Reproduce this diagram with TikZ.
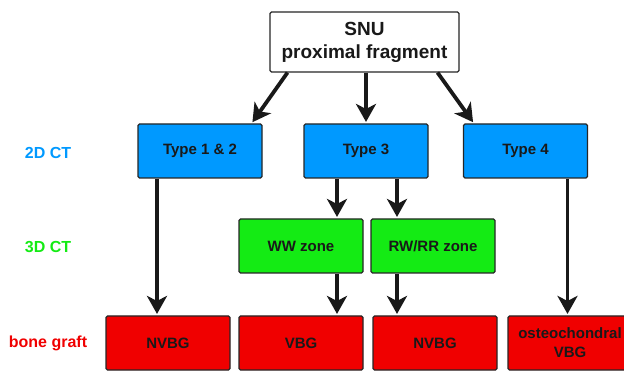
\documentclass[tikz,border=0pt]{standalone}
\usepackage{fontspec}
\setmainfont{Liberation Sans}
\definecolor{ctblue}{RGB}{0,153,255}
\definecolor{ctgreen}{RGB}{20,235,20}
\definecolor{graftred}{RGB}{240,0,0}
\usetikzlibrary{arrows.meta,positioning}

\begin{document}
\begin{tikzpicture}[x=1pt,y=-1pt]
\tikzstyle{box}=[rectangle, rounded corners=1.5pt, draw=black!85, line width=1.1pt, minimum width=124pt, minimum height=54pt, align=center, text=black!90, font=\fontsize{15}{19}\selectfont\bfseries]
\tikzstyle{top}=[box, fill=white, minimum width=189pt, minimum height=60pt, font=\fontsize{19}{23}\selectfont\bfseries]
\tikzstyle{type}=[box, fill=ctblue]
\tikzstyle{zone}=[box, fill=ctgreen]
\tikzstyle{graft}=[box, fill=graftred]
\tikzstyle{level}=[font=\fontsize{16}{18}\selectfont\bfseries]
\tikzstyle{connect}=[-{Stealth[length=18pt,width=20pt,inset=5pt]}, line width=3.8pt, black!90, shorten >=1.5pt]

\useasboundingbox (0,0) rectangle (624,371);

	% rows
	\node[top] (snu) at (364.5,42) {SNU\\proximal fragment};
	\node[type] (t12) at (200,151) {Type 1 \& 2};
	\node[type] (t3) at (366,151) {Type 3};
	\node[type] (t4) at (525.5,151) {Type 4};
	\node[zone] (ww) at (301,246) {WW zone};
	\node[zone] (rw) at (433,246) {RW/RR zone};
	\node[graft] (nvbgA) at (168,343) {NVBG};
	\node[graft] (vbg) at (301,343) {VBG};
	\node[graft] (nvbgB) at (435,343) {NVBG};
	\node[graft] (osteo) at (570,343) {osteochondral\\VBG};

	% row labels
	\node[level, text=ctblue] (l2d) at (48,153) {2D CT};
	\node[level, text=ctgreen] (l3d) at (48,247) {3D CT};
	\node[level, text=graftred] (lbg) at (48,343) {bone graft};

	\coordinate (a12) at ([xshift=-43pt]t12.south);
	\coordinate (a3) at ([xshift=-29pt]t3.south);
	\coordinate (b3) at ([xshift=31pt]t3.south);
	\coordinate (a4) at ([xshift=42pt]t4.south);

	\draw[connect] ([xshift=-77pt]snu.south) -- ([xshift=-11pt]t12.north east);
	\draw[connect] (t3.north |- snu.south) -- (t3.north);
	\draw[connect] ([xshift=73pt]snu.south) -- ([xshift=11pt]t4.north west);

	\draw[connect] (a12) -- (a12 |- nvbgA.north);
	\draw[connect] (a3) -- (a3 |- ww.north);
	\draw[connect] (b3) -- (b3 |- rw.north);
	\draw[connect] (ww.south -| a3) -- (vbg.north -| a3);
	\draw[connect] (rw.south -| b3) -- (nvbgB.north -| b3);
	\draw[connect] (a4) -- (a4 |- osteo.north);
\end{tikzpicture}
\end{document}
